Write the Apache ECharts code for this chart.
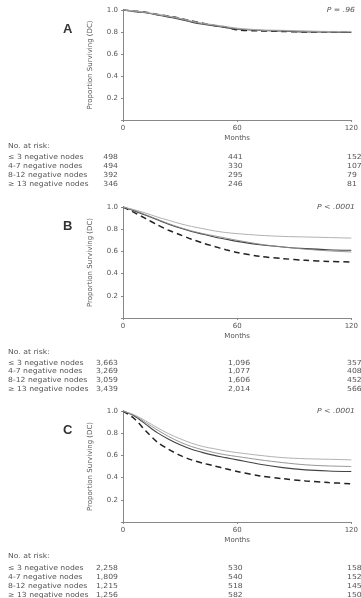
<!DOCTYPE html>
<html>
<head>
<meta charset="utf-8">
<script src="https://cdn.jsdelivr.net/npm/echarts@6/dist/echarts.min.js"></script>
<style>
  html, body { margin: 0; padding: 0; background: #fff; }
  #chart { width: 361px; height: 598px; }
</style>
</head>
<body>
<div id="chart"></div>
<script>
const months = [0, 6, 12, 18, 24, 30, 36, 42, 48, 54, 60, 72, 84, 96, 108, 120];
const groupNames = ['\u2264 3 negative nodes', '4-7 negative nodes', '8-12 negative nodes', '\u2265 13 negative nodes'];

// panel A
const survA_le3 = [1, 0.99, 0.98, 0.96, 0.945, 0.925, 0.90, 0.88, 0.865, 0.85, 0.835, 0.82, 0.815, 0.81, 0.805, 0.805];
const survA_4to7 = [1, 0.99, 0.975, 0.96, 0.94, 0.92, 0.895, 0.875, 0.86, 0.845, 0.83, 0.815, 0.81, 0.805, 0.80, 0.80];
const survA_8to12 = [1, 0.985, 0.975, 0.955, 0.935, 0.915, 0.89, 0.87, 0.855, 0.84, 0.825, 0.815, 0.81, 0.80, 0.80, 0.795];
const survA_ge13 = [1, 0.99, 0.98, 0.96, 0.945, 0.925, 0.90, 0.88, 0.86, 0.845, 0.82, 0.81, 0.805, 0.80, 0.80, 0.80];
const riskA = [['498', '441', '152'], ['494', '330', '107'], ['392', '295', '79'], ['346', '246', '81']];

// panel B
const survB_le3 = [1, 0.975, 0.945, 0.91, 0.88, 0.85, 0.825, 0.805, 0.785, 0.77, 0.76, 0.745, 0.735, 0.73, 0.725, 0.72];
const survB_4to7 = [1, 0.97, 0.93, 0.89, 0.85, 0.815, 0.785, 0.76, 0.74, 0.72, 0.70, 0.665, 0.64, 0.62, 0.605, 0.595];
const survB_8to12 = [1, 0.965, 0.925, 0.885, 0.845, 0.81, 0.78, 0.755, 0.73, 0.71, 0.69, 0.66, 0.64, 0.625, 0.615, 0.61];
const survB_ge13 = [1, 0.95, 0.895, 0.84, 0.79, 0.75, 0.71, 0.675, 0.645, 0.615, 0.59, 0.555, 0.535, 0.52, 0.51, 0.505];
const riskB = [['3,663', '1,096', '357'], ['3,269', '1,077', '408'], ['3,059', '1,606', '452'], ['3,439', '2,014', '566']];

// panel C
const survC_le3 = [1, 0.965, 0.91, 0.85, 0.795, 0.75, 0.71, 0.68, 0.66, 0.64, 0.625, 0.60, 0.58, 0.57, 0.565, 0.56];
const survC_4to7 = [1, 0.96, 0.895, 0.83, 0.77, 0.72, 0.68, 0.65, 0.625, 0.605, 0.59, 0.56, 0.535, 0.515, 0.505, 0.50];
const survC_8to12 = [1, 0.955, 0.88, 0.805, 0.745, 0.695, 0.655, 0.625, 0.60, 0.58, 0.56, 0.52, 0.49, 0.47, 0.46, 0.455];
const survC_ge13 = [1, 0.93, 0.82, 0.72, 0.655, 0.60, 0.56, 0.53, 0.505, 0.48, 0.455, 0.415, 0.39, 0.37, 0.355, 0.345];
const riskC = [['2,258', '530', '158'], ['1,809', '540', '152'], ['1,215', '518', '145'], ['1,256', '582', '150']];

const panels = [
  { letter: 'A', p: 'P = .96', top: 10, height: 110, risk: riskA, riskTop: 146.5, rowTop: 157.5, curves: [survA_le3, survA_4to7, survA_8to12, survA_ge13] },
  { letter: 'B', p: 'P < .0001', top: 207, height: 111, risk: riskB, riskTop: 352.5, rowTop: 362.7, curves: [survB_le3, survB_4to7, survB_8to12, survB_ge13] },
  { letter: 'C', p: 'P < .0001', top: 411, height: 111, risk: riskC, riskTop: 556.5, rowTop: 568, curves: [survC_le3, survC_4to7, survC_8to12, survC_ge13] }
];
const rowStep = 8.9;

const lineStyles = [
  { color: '#a8a8a8', width: 0.9, type: 'solid' },
  { color: '#8a8a8a', width: 0.9, type: 'solid' },
  { color: '#444', width: 1.1, type: 'solid' },
  { color: '#222', width: 1.5, type: [6, 4] }
];

const textColor = '#555';
const fontFamily = '"DejaVu Sans", sans-serif';
const smallFont = '7px ' + fontFamily;
const stretch = 1.1;
const grids = [], xAxes = [], yAxes = [], series = [], graphics = [];

function label(text, x, y, align, font) {
  return {
    type: 'text', x: x, y: y, scaleX: stretch,
    style: { text: text, font: font || smallFont, fill: textColor, textAlign: align || 'left', textVerticalAlign: 'middle' }
  };
}

panels.forEach((p, i) => {
  grids.push({ left: 123, width: 230, top: p.top, height: p.height });
  xAxes.push({
    type: 'value', gridIndex: i, min: 0, max: 120, interval: 60,
    name: 'Months', nameLocation: 'middle', nameGap: 15,
    nameTextStyle: { fontSize: 7, fontFamily: 'DejaVu Sans', color: textColor },
    axisLine: { lineStyle: { color: '#888', width: 1 } },
    axisTick: { length: 2, lineStyle: { color: '#888' } },
    axisLabel: { fontSize: 7, fontFamily: 'DejaVu Sans', color: textColor, margin: 5 },
    splitLine: { show: false }
  });
  yAxes.push({
    type: 'value', gridIndex: i, min: 0, max: 1, interval: 0.2,
    name: 'Proportion Surviving (DC)', nameLocation: 'middle', nameGap: 29,
    nameTextStyle: { fontSize: 7, fontFamily: 'DejaVu Sans', color: textColor },
    axisLine: { show: true, lineStyle: { color: '#888', width: 1 } },
    axisTick: { show: true, length: 2, lineStyle: { color: '#888' } },
    axisLabel: { fontSize: 7, fontFamily: 'DejaVu Sans', color: textColor, margin: 5, formatter: v => v === 0 ? '' : v.toFixed(1) },
    splitLine: { show: false }
  });
  p.curves.forEach((c, k) => {
    series.push({
      type: 'line', xAxisIndex: i, yAxisIndex: i, name: groupNames[k],
      data: months.map((m, j) => [m, c[j]]),
      smooth: 0.3, showSymbol: false, silent: true,
      lineStyle: lineStyles[k], z: 10 - k
    });
  });
  graphics.push({ type: 'text', x: 63, y: p.top + 19, style: { text: p.letter, font: 'bold 13px "Liberation Sans", Arial, sans-serif', fill: '#333', textVerticalAlign: 'middle' } });
  graphics.push(label(p.p, 355, p.top, 'right', 'italic 7px ' + fontFamily));
  graphics.push(label('No. at risk:', 8, p.riskTop));
  p.risk.forEach((row, r) => {
    const y = p.rowTop + r * rowStep;
    graphics.push(label(groupNames[r], 8, y));
    graphics.push(label(row[0], 118, y, 'right'));
    graphics.push(label(row[1], 228, y));
    graphics.push(label(row[2], 347, y));
  });
});

const chart = echarts.init(document.getElementById('chart'), null, { renderer: 'canvas' });
chart.setOption({
  backgroundColor: '#ffffff',
  animation: false,
  grid: grids,
  xAxis: xAxes,
  yAxis: yAxes,
  series: series,
  graphic: graphics
});
</script>
</body>
</html>
